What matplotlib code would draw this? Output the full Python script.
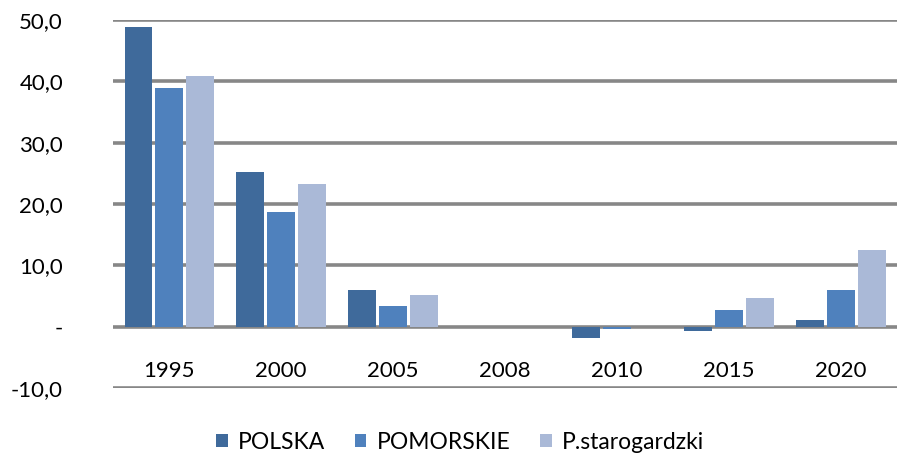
import numpy as np
import matplotlib.pyplot as plt

# ═══ Data ═════════════════════════════════════════════════════════════════

years = ['1995', '2000', '2005', '2008', '2010', '2015', '2020']
polska = [48.9, 25.2, 6.0, 0.0, -1.8, -0.75, 1.1]
pomorskie = [38.9, 18.7, 3.4, 0.0, -0.4, 2.7, 6.0]
starogardzki = [40.8, 23.3, 5.1, 0.0, 0.0, 4.7, 12.5]

series = [('POLSKA', polska, '#3F6A9B'),
          ('POMORSKIE', pomorskie, '#4F81BD'),
          ('P.starogardzki', starogardzki, '#AAB9D7')]

y_ticks = [-10, 0, 10, 20, 30, 40, 50]
y_labels = ['-10,0', '-', '10,0', '20,0', '30,0', '40,0', '50,0']

# ═══ Figure ═══════════════════════════════════════════════════════════════

plt.rcParams['font.family'] = ['Lato', 'DejaVu Sans']

fig = plt.figure(figsize=(8.97, 4.55), dpi=100)
ax = fig.add_axes([0.126, 0.147, 0.874, 0.809])

x = np.arange(len(years))
step = 0.275
for k, (name, vals, col) in enumerate(series):
  ax.bar(x + (k - 1)*step, vals, 0.245, color=col, linewidth=0,
         label=name, zorder=3)

# ─── Axes ─────────────────────────────────────────────────────────────────

ax.set_xlim(-0.5, len(years) - 0.5)
ax.set_ylim(-10, 50)
ax.set_yticks(y_ticks)
ax.set_yticklabels(y_labels, fontsize=16)
ax.set_xticks([])
ax.tick_params(axis='y', length=0, pad=36)
ax.grid(axis='y', color='#878787', linewidth=2.6, zorder=1)
ax.set_axisbelow(True)
for s in ax.spines.values():
  s.set_visible(False)

# category labels sit just below the zero line
for i, yr in enumerate(years):
  ax.text(i, -7.2, yr, ha='center', va='center', fontsize=16)

fig.legend(loc='lower center', bbox_to_anchor=(0.513, -0.04), ncol=3,
           frameon=False, fontsize=16.5, handlelength=0.5, handleheight=0.5,
           handletextpad=0.45, columnspacing=1.3)

fig.savefig('out.png', dpi=100)
